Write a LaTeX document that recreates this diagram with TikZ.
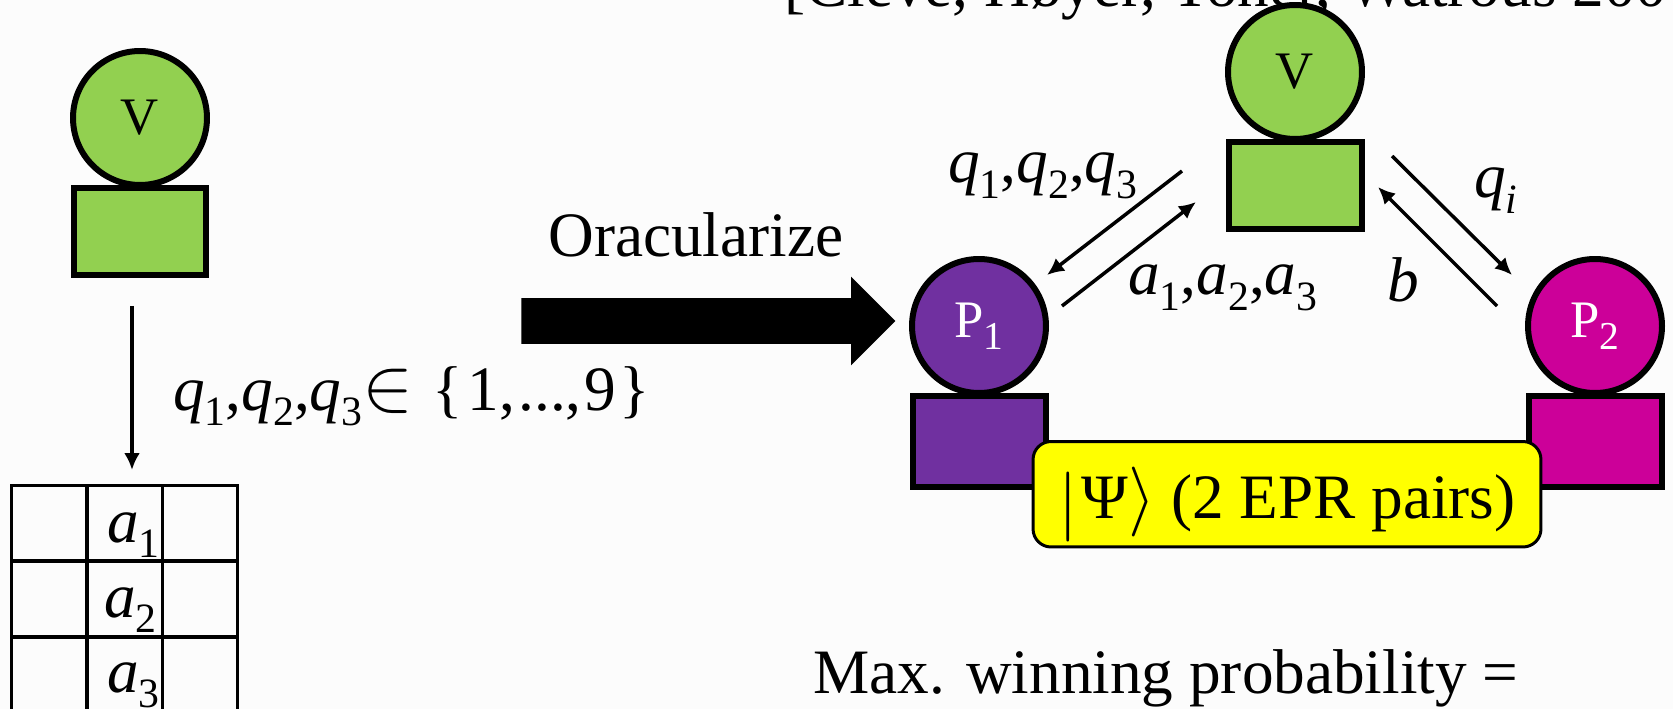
\documentclass[tikz,border=0pt]{standalone}
\usepackage{fontspec}
\setmainfont{Liberation Serif}
\usepackage{tikz}
\usetikzlibrary{arrows.meta, positioning, shapes.arrows}
\usepackage{xcolor}
\definecolor{vgreen}{HTML}{92D050}
\definecolor{ppurple}{HTML}{7030A0}
\definecolor{pmagenta}{HTML}{CC0099}
\definecolor{eprfill}{HTML}{FFFF00}
\newcommand{\idx}[1]{\raisebox{-.24em}{\scalebox{.66}{#1}}}
\newcommand{\pidx}[1]{\raisebox{-.22em}{\scalebox{.75}{#1}}}

\begin{document}
\begin{tikzpicture}[
  x=0.02cm, y=-0.02cm,
  big/.style={font=\fontsize{36}{43}\selectfont, inner sep=0pt},
  label/.style={big, anchor=base west},
  head/.style={draw, circle, line width=0.12cm, minimum size=2.68cm, inner sep=0pt,
               font=\fontsize{30}{36}\selectfont},
  body/.style={draw, rectangle, line width=0.12cm, minimum width=2.66cm,
               minimum height=1.74cm},
  cell/.style={draw, rectangle, line width=0.05cm, minimum width=1.5cm,
               minimum height=1.5cm, inner sep=0pt},
  arrow/.style={-{Latex[length=0.34cm, width=0.32cm]}, line width=0.07cm}
]
\useasboundingbox (0,0) rectangle (1673,709);
\clip (0,0) rectangle (1673,709);
\fill[white!99!black] (0,0) rectangle (1673,709);

\node[label] (source) at (784,7) {[Cleve, Høyer, Toner, Watrous 200};

% verifier on the left, with its table
\node[head, fill=vgreen] (vleft) at (140,118) {V};
\node[body, fill=vgreen, below=-0.06cm of vleft] (vleftbox) {};

\foreach \row/\ypos in {1/523, 2/599, 3/675} {
  \node[cell] (cell\row a) at (49,\ypos) {};
  \node[cell] (cell\row b) at (125,\ypos) {};
  \node[cell] (cell\row c) at (200,\ypos) {};
}
\node[label] (aone) at (107,542) {\textit{a}\idx{1}};
\node[label] (atwo) at (104,617) {\textit{a}\idx{2}};
\node[label] (athree) at (107,692) {\textit{a}\idx{3}};

\coordinate (askfrom) at (132,306);
\coordinate (askto) at (132,470);
\draw[arrow] (askfrom) -- (askto);
\node[label] (asklabel) at (173,410)
  {\textit{q}\idx{1},\textit{q}\idx{2},\textit{q}\idx{3}\scalebox{1.75}{$\in$}\kern.3em\{\kern.08em 1,\kern.05em...,\kern.05em 9\kern.05em\}};

% the transformation
\node[single arrow, fill=black, inner xsep=0pt, inner ysep=0.45cm, minimum height=7.48cm,
      minimum width=1.76cm, single arrow head extend=0.43cm,
      single arrow head indent=0cm] (bigarrow) at (697,321) {};
\node[label] (oracle) at (548,257) {Oracularize};

% verifier and provers on the right
\node[head, fill=vgreen] (vright) at (1295,72) {V};
\node[body, fill=vgreen, below=-0.06cm of vright] (vrightbox) {};
\node[head, fill=ppurple, text=white] (pone) at (979,326) {P\pidx{1}};
\node[body, fill=ppurple, minimum height=1.82cm, below=-0.06cm of pone] (ponebox) {};
\node[head, fill=pmagenta, text=white] (ptwo) at (1595,326) {P\pidx{2}};
\node[body, fill=pmagenta, minimum height=1.82cm, below=-0.06cm of ptwo] (ptwobox) {};

\node[big, anchor=base, draw, fill=eprfill, line width=0.06cm, rounded corners=0.36cm,
      minimum width=10.16cm, text height=1.53cm, text depth=0.58cm] (epr) at (1287,518)
  {\raisebox{-.1em}{\scalebox{1.6}{$|$}}\kern.06em Ψ\raisebox{-.02em}{\scalebox{1.6}{$\rangle$}} (2 EPR pairs)};

\coordinate (qsfrom) at (1182,171);
\coordinate (qsto) at (1047,275);
\coordinate (asfrom) at (1062,306);
\coordinate (asto) at (1196,202);
\coordinate (qifrom) at (1392,156);
\coordinate (qito) at (1512,275);
\coordinate (bfrom) at (1497,306);
\coordinate (bto) at (1378,187);
\draw[arrow] (qsfrom) -- (qsto);
\draw[arrow] (asfrom) -- (asto);
\draw[arrow] (qifrom) -- (qito);
\draw[arrow] (bfrom) -- (bto);

\node[label] (qslabel) at (948,183) {\textit{q}\idx{1},\textit{q}\idx{2},\textit{q}\idx{3}};
\node[label] (aslabel) at (1128,295) {\textit{a}\idx{1},\textit{a}\idx{2},\textit{a}\idx{3}};
\node[label] (qilabel) at (1474,198) {\textit{q}\idx{\textit{i}}};
\node[label] (blabel) at (1387,302) {\textit{b}};

\node[label] (winning) at (813,693) {Max. winning probability =};
\end{tikzpicture}
\end{document}
